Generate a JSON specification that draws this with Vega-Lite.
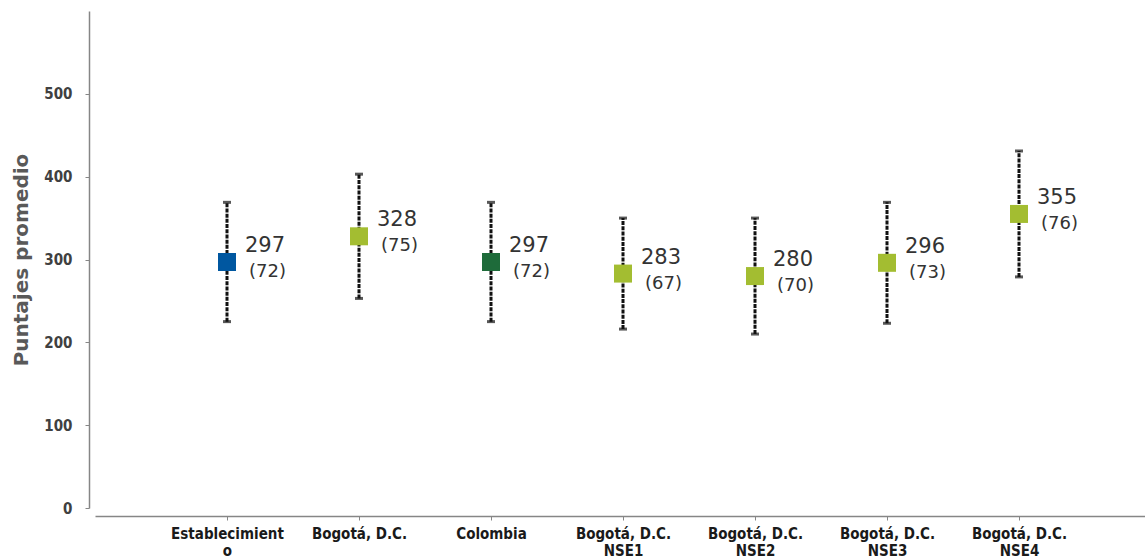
{
  "$schema": "https://vega.github.io/schema/vega-lite/v6.json",
  "width": 1056,
  "height": 497,
  "autosize": "none",
  "padding": {"left": 95, "top": 11, "right": 0, "bottom": 52},
  "background": "white",
  "config": {"view": {"stroke": null}},
  "data": {
    "values": [
      {"grupo": "Establecimiento", "promedio": 297, "de": 72, "inf": 225, "sup": 369, "etiqueta_de": "(72)", "tipo": "est"},
      {"grupo": "Bogotá, D.C.", "promedio": 328, "de": 75, "inf": 253, "sup": 403, "etiqueta_de": "(75)", "tipo": "ref"},
      {"grupo": "Colombia", "promedio": 297, "de": 72, "inf": 225, "sup": 369, "etiqueta_de": "(72)", "tipo": "col"},
      {"grupo": "Bogotá, D.C. NSE1", "promedio": 283, "de": 67, "inf": 216, "sup": 350, "etiqueta_de": "(67)", "tipo": "ref"},
      {"grupo": "Bogotá, D.C. NSE2", "promedio": 280, "de": 70, "inf": 210, "sup": 350, "etiqueta_de": "(70)", "tipo": "ref"},
      {"grupo": "Bogotá, D.C. NSE3", "promedio": 296, "de": 73, "inf": 223, "sup": 369, "etiqueta_de": "(73)", "tipo": "ref"},
      {"grupo": "Bogotá, D.C. NSE4", "promedio": 355, "de": 76, "inf": 279, "sup": 431, "etiqueta_de": "(76)", "tipo": "ref"}
    ]
  },
  "encoding": {
    "x": {
      "field": "grupo",
      "type": "nominal",
      "sort": null,
      "scale": {"type": "point", "padding": 1},
      "axis": {
        "title": null,
        "offset": 8,
        "domainColor": "#868686",
        "domainWidth": 1.5,
        "tickColor": "#868686",
        "tickSize": 4,
        "labelAngle": 0,
        "labelFont": "DejaVu Sans Condensed",
        "labelFontWeight": "bold",
        "labelFontSize": 15,
        "labelColor": "#1a1a1a",
        "labelPadding": 6,
        "labelLineHeight": 17,
        "labelOverlap": false,
        "labelLimit": 0,
        "labelExpr": "datum.value == 'Establecimiento' ? ['Establecimient', 'o'] : indexof(datum.value, ' NSE') > 0 ? [slice(datum.value, 0, indexof(datum.value, ' NSE')), slice(datum.value, indexof(datum.value, ' NSE') + 1)] : datum.value"
      }
    }
  },
  "layer": [
    {
      "mark": {"type": "rule", "strokeDash": [4, 1.2], "strokeWidth": 3, "color": "#111111"},
      "encoding": {
        "y": {
          "field": "inf",
          "type": "quantitative",
          "scale": {"domain": [0, 600], "nice": false},
          "axis": {
            "values": [0, 100, 200, 300, 400, 500],
            "grid": false,
            "offset": 6,
            "domainColor": "#868686",
            "domainWidth": 1.5,
            "tickColor": "#868686",
            "tickSize": 4,
            "labelFont": "DejaVu Sans Condensed",
            "labelFontWeight": "bold",
            "labelFontSize": 15,
            "labelColor": "#404040",
            "labelPadding": 13,
            "title": "Puntajes promedio",
            "titleFont": "DejaVu Sans",
            "titleFontWeight": "bold",
            "titleFontSize": 20,
            "titleColor": "#595959",
            "titlePadding": 12
          }
        },
        "y2": {"field": "sup"}
      }
    },
    {
      "mark": {"type": "tick", "orient": "horizontal", "size": 8, "thickness": 3, "color": "#111111"},
      "encoding": {"y": {"field": "inf", "type": "quantitative"}}
    },
    {
      "mark": {"type": "tick", "orient": "horizontal", "size": 8, "thickness": 3, "color": "#111111"},
      "encoding": {"y": {"field": "sup", "type": "quantitative"}}
    },
    {
      "mark": {"type": "square", "size": 324, "opacity": 1, "filled": true},
      "encoding": {
        "y": {"field": "promedio", "type": "quantitative"},
        "color": {
          "field": "tipo",
          "type": "nominal",
          "scale": {"domain": ["est", "ref", "col"], "range": ["#0057A0", "#A3BD31", "#1E6B3A"]},
          "legend": null
        }
      }
    },
    {
      "mark": {"type": "text", "align": "left", "baseline": "alphabetic", "dx": 18, "dy": -10, "font": "DejaVu Sans", "fontSize": 21, "color": "#333333"},
      "encoding": {
        "y": {"field": "promedio", "type": "quantitative"},
        "text": {"field": "promedio", "type": "quantitative"}
      }
    },
    {
      "mark": {"type": "text", "align": "left", "baseline": "alphabetic", "dx": 22, "dy": 15, "font": "DejaVu Sans", "fontSize": 18, "color": "#333333"},
      "encoding": {
        "y": {"field": "promedio", "type": "quantitative"},
        "text": {"field": "etiqueta_de"}
      }
    }
  ]
}
